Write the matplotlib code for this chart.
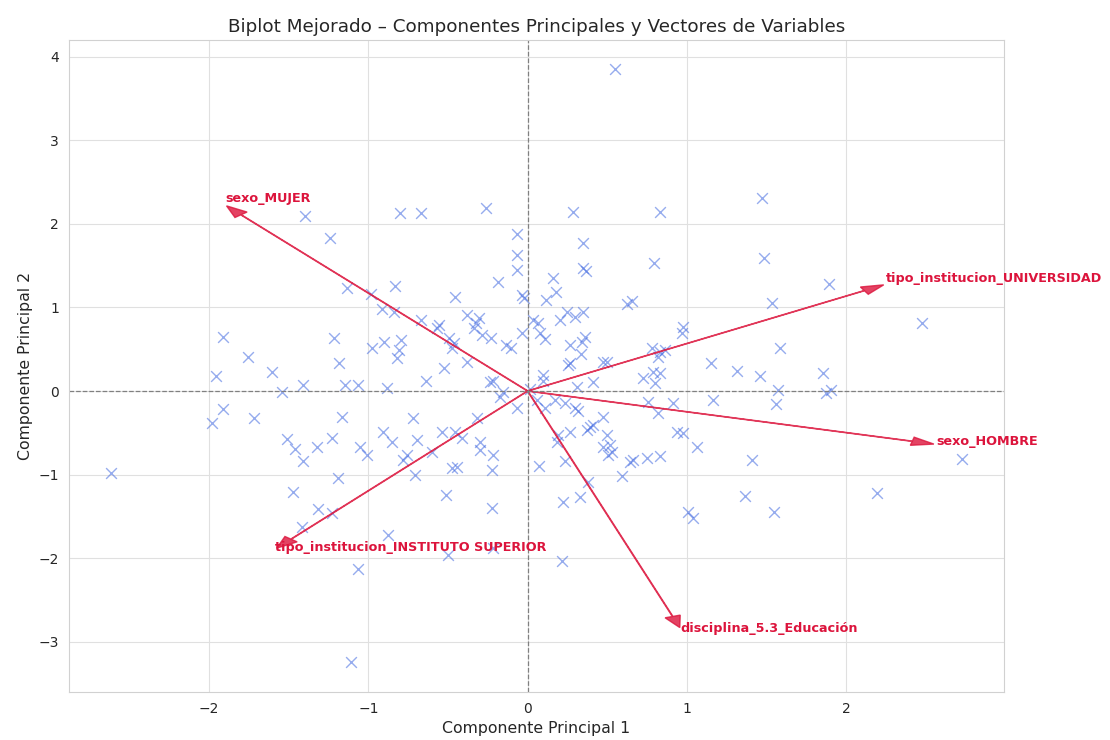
import numpy as np
import matplotlib
matplotlib.use("Agg")
import matplotlib.pyplot as plt
import seaborn as sns

# scores of the individuals on the first two principal components
pc1 = [0.546, 1.469, -1.400, -0.804, -0.672, -0.264, 0.282, 0.829, -1.243, -0.069,
       0.345, -0.069, 1.481, 0.791, -0.069, 0.345, 0.364, 0.157, -0.188, -1.136,
       -0.835, 1.890, 0.176, -0.986, -0.458, -0.038, -0.025, 0.113, 0.621, 0.653,
       1.532, -0.917, -0.841, 0.245, 0.295, 0.345, 0.201, 0.031, 0.063, -0.672,
       -0.383, -0.308, -0.326, -0.339, -0.559, -0.571, 2.473, 0.973, 0.967, 0.075,
       0.107, 0.358, 0.339, -0.038, -1.218, -1.915, -0.797, -0.904, -0.496, -0.465,
       -0.477, -0.289, -0.232, 0.264, 0.778, 0.829, 0.860, 0.816, 1.582, -0.979,
       -0.810, -0.822, -0.138, -0.107, 0.333, -1.758, -0.383, 0.471, 0.496, 1.149,
       -1.186, 0.251, 0.264, -0.527, -1.607, 1.312, -1.959, 1.456, 1.852, 0.722,
       0.785, 0.829, 0.797, -0.640, 0.408, 0.094, 0.094, -0.239, -0.220, -1.412,
       -1.149, -1.067, 0.308, -0.885, 1.569, 1.902, 1.871, 0.013,
       -1.544, -1.915, -1.984, -1.720, -1.168, -1.513, -1.463, -1.412, -1.325, -1.230,
       -1.055, -1.193, -1.475, -1.318, -1.230, -1.419, -1.067, -2.618, -1.111, -0.176,
       -0.157, -0.069, -0.320, -0.722, -0.910, -0.854, -1.011, -0.697, -0.540, -0.458,
       -0.414, -0.603, -0.760, -0.785, -0.709, -0.301, -0.301, -0.220, -0.477, -0.446,
       -0.226, -0.515, -0.226, -0.879, -0.502, -0.220, 0.056, 0.107, 0.169, 0.232,
       0.295, 0.314, 0.753, 0.816, 0.910, 0.471, 0.389, 0.370, 0.408, 0.264,
       0.188, 0.182, 0.496, 0.935, 0.973, 1.061, 0.471, 0.515, 0.527, 0.502,
       0.640, 0.659, 0.747, 0.829, 0.232, 0.069, 0.590, 0.377, 0.326, 0.220,
       1.004, 1.036, 0.213, 1.161, 1.557, 1.406, 1.362, 1.544, 2.191, 2.724]
pc2 = [3.856, 2.311, 2.096, 2.132, 2.132, 2.192, 2.144, 2.144, 1.832, 1.880,
       1.772, 1.629, 1.593, 1.533, 1.449, 1.473, 1.437, 1.353, 1.305, 1.234,
       1.257, 1.281, 1.186, 1.162, 1.126, 1.150, 1.114, 1.090, 1.042, 1.078,
       1.054, 0.982, 0.946, 0.946, 0.886, 0.946, 0.850, 0.850, 0.814, 0.850,
       0.910, 0.874, 0.814, 0.754, 0.790, 0.754, 0.814, 0.766, 0.695, 0.695,
       0.623, 0.647, 0.587, 0.695, 0.635, 0.647, 0.611, 0.587, 0.635, 0.575,
       0.515, 0.671, 0.635, 0.551, 0.515, 0.467, 0.491, 0.407, 0.515, 0.515,
       0.491, 0.395, 0.551, 0.515, 0.443, 0.407, 0.347, 0.347, 0.347, 0.335,
       0.335, 0.311, 0.335, 0.275, 0.228, 0.240, 0.180, 0.180, 0.216, 0.156,
       0.228, 0.216, 0.096, 0.120, 0.108, 0.192, 0.120, 0.108, 0.120, 0.072,
       0.072, 0.072, 0.048, 0.036, 0.012, 0.012, -0.024, 0.024,
       -0.012, -0.216, -0.383, -0.323, -0.311, -0.575, -0.695, -0.838, -0.671, -0.563,
       -0.671, -1.042, -1.210, -1.413, -1.461, -1.629, -2.132, -0.982, -3.246, -0.072,
       -0.012, -0.204, -0.323, -0.323, -0.491, -0.611, -0.766, -0.587, -0.491, -0.491,
       -0.563, -0.731, -0.766, -0.826, -1.006, -0.611, -0.707, -0.766, -0.922, -0.910,
       -0.946, -1.246, -1.401, -1.725, -1.964, -1.880, -0.108, -0.204, -0.108, -0.144,
       -0.204, -0.240, -0.132, -0.263, -0.144, -0.311, -0.431, -0.467, -0.407, -0.491,
       -0.527, -0.611, -0.527, -0.491, -0.503, -0.671, -0.671, -0.647, -0.731, -0.766,
       -0.850, -0.826, -0.802, -0.778, -0.838, -0.898, -1.018, -1.090, -1.269, -1.329,
       -1.449, -1.521, -2.036, -0.108, -0.156, -0.826, -1.257, -1.449, -1.222, -0.814]

# variable vectors (arrow tips)
var_names = ["sexo_HOMBRE", "sexo_MUJER", "tipo_institucion_INSTITUTO SUPERIOR",
             "tipo_institucion_UNIVERSIDAD", "disciplina_5.3_Educación"]
load_x = [2.55, -1.89, -1.575, 2.235, 0.955]
load_y = [-0.635, 2.215, -1.88, 1.27, -2.83]

sns.set_style("whitegrid", {"grid.color": "0.88", "axes.edgecolor": "0.82"})
fig, ax = plt.subplots(figsize=(11.1, 7.4), dpi=100)
fig.subplots_adjust(left=0.062, right=0.9045, top=0.946, bottom=0.065)

ax.scatter(pc1, pc2, marker="x", s=60, color="royalblue", alpha=0.55, linewidths=1)

for name, x, y in zip(var_names, load_x, load_y):
    ax.arrow(0, 0, x, y, color="crimson", alpha=0.8, width=0.004,
             head_width=0.1, head_length=0.14, length_includes_head=True)
    ax.text(x * 1.005, y * 1.02 + 0.045, name, color="crimson", fontsize=9.2,
            fontweight="bold", ha="left", va="center")

ax.axhline(0, color="gray", linestyle="--", linewidth=0.9)
ax.axvline(0, color="gray", linestyle="--", linewidth=0.9)

ax.set_xlim(-2.88, 2.99)
ax.set_ylim(-3.6, 4.2)
ax.set_xlabel("Componente Principal 1", fontsize=11.3)
ax.set_ylabel("Componente Principal 2", fontsize=11.3)
ax.set_title("Biplot Mejorado – Componentes Principales y Vectores de Variables", fontsize=13.2)

plt.savefig("out.png", dpi=100)
